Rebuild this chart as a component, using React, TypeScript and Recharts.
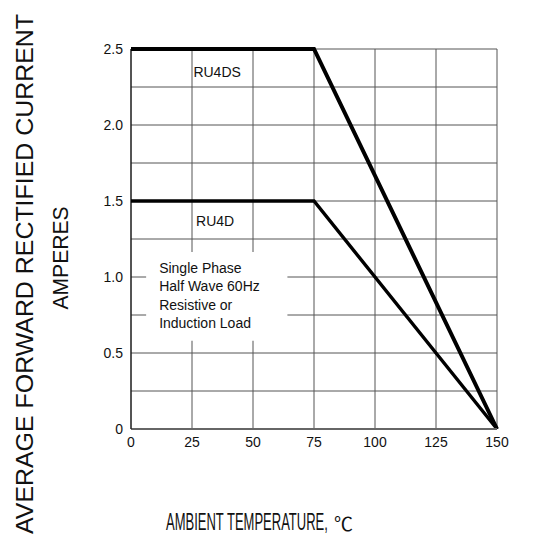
import React from 'react';
import { LineChart, Line, XAxis, YAxis, CartesianGrid, ReferenceArea, ReferenceDot } from 'recharts';

// temperature points (°C) and derated current (A)
const temps = [0, 75, 150];
const ru4ds = [2.5, 2.5, 0];
const ru4d = [1.5, 1.5, 0];

const xTicks = [0, 25, 50, 75, 100, 125, 150];
const yTicks = [0, 0.25, 0.5, 0.75, 1.0, 1.25, 1.5, 1.75, 2.0, 2.25, 2.5];
const yLabels = ['0', '', '0.5', '', '1.0', '', '1.5', '', '2.0', '', '2.5'];

const noteLines = ['Single Phase', 'Half Wave 60Hz', 'Resistive or', 'Induction Load'];

const FONT = '"Liberation Sans", Arial, sans-serif';

if (typeof document !== 'undefined') document.body.style.margin = '0';

const data = temps.map((t, i) => ({ t, ru4ds: ru4ds[i], ru4d: ru4d[i] }));

const NoteText = (props: any) => {
    const { x, y } = props.viewBox;
    return (
        <text x={x + 13} y={y + 21} fontFamily={FONT} fontSize={14} fill="#111">
            {noteLines.map((l, i) => (
                <tspan key={l} x={x + 13} dy={i === 0 ? 0 : 18.5}>
                    {l}
                </tspan>
            ))}
        </text>
    );
};

export default function App() {
    return (
        <div style={{ position: 'relative', width: 535, height: 537, background: '#fff' }}>
            <LineChart width={535} height={537} data={data} margin={{ top: 49, right: 38, left: 0, bottom: 78 }}>
                <CartesianGrid stroke="#555" strokeWidth={1} />
                <XAxis
                    dataKey="t"
                    type="number"
                    domain={[0, 150]}
                    ticks={xTicks}
                    height={30}
                    tickLine={false}
                    axisLine={{ stroke: '#666', strokeWidth: 2 }}
                    tick={{ fontFamily: FONT, fontSize: 14, fill: '#111' }}
                    interval={0}
                />
                <YAxis
                    type="number"
                    domain={[0, 2.5]}
                    ticks={yTicks}
                    width={131}
                    tickLine={false}
                    axisLine={{ stroke: '#000' }}
                    tickFormatter={(v: number) => yLabels[yTicks.indexOf(v)] ?? ''}
                    tick={{ fontFamily: FONT, fontSize: 14, fill: '#111' }}
                    interval={0}
                />
                <ReferenceArea x1={6.2} x2={64.1} y1={0.58} y2={1.165} fill="#fff" fillOpacity={1} stroke="none" label={<NoteText />} />
                <ReferenceDot
                    x={35.3}
                    y={2.35}
                    r={0}
                    fill="none"
                    stroke="none"
                    label={{ value: 'RU4DS', position: 'center', fontFamily: FONT, fontSize: 14, fill: '#111' }}
                />
                <ReferenceDot
                    x={34.5}
                    y={1.37}
                    r={0}
                    fill="none"
                    stroke="none"
                    label={{ value: 'RU4D', position: 'center', fontFamily: FONT, fontSize: 14, fill: '#111' }}
                />
                <Line type="linear" dataKey="ru4ds" stroke="#000" strokeWidth={4} dot={false} isAnimationActive={false} />
                <Line type="linear" dataKey="ru4d" stroke="#000" strokeWidth={3.4} dot={false} isAnimationActive={false} />
            </LineChart>
            <svg width={535} height={537} style={{ position: 'absolute', left: 0, top: 0, pointerEvents: 'none' }}>
                <text
                    transform="translate(33,274) rotate(-90)"
                    textAnchor="middle"
                    fontFamily={FONT}
                    fontSize={23}
                    fill="#111"
                    textLength={520}
                    lengthAdjust="spacingAndGlyphs"
                >
                    AVERAGE FORWARD RECTIFIED CURRENT
                </text>
                <text
                    transform="translate(68,258) rotate(-90)"
                    textAnchor="middle"
                    fontFamily={FONT}
                    fontSize={22}
                    fill="#111"
                    textLength={103}
                    lengthAdjust="spacingAndGlyphs"
                >
                    AMPERES
                </text>
                <text transform="translate(166,530) scale(0.566,1)" fontFamily={FONT} fontSize={23} fill="#111">
                    AMBIENT TEMPERATURE,
                </text>
                <text x={334} y={531} fontFamily='"Noto Sans CJK SC", serif' fontSize={19} fill="#111">
                    ℃
                </text>
            </svg>
        </div>
    );
}
